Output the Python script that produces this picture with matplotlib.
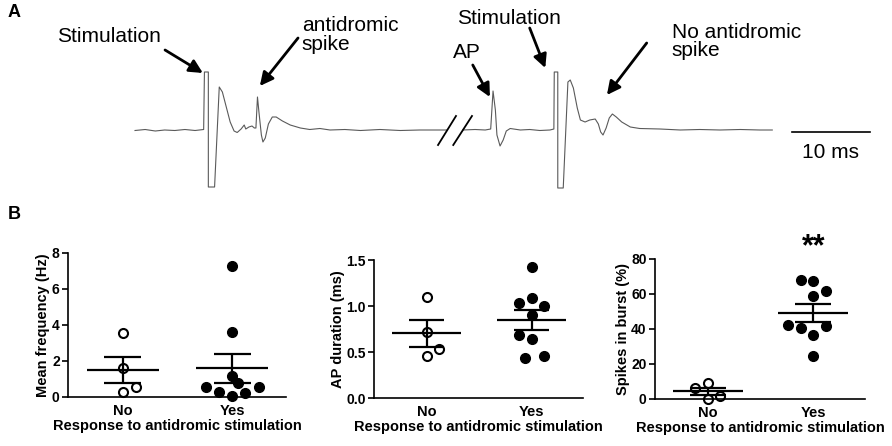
import matplotlib
matplotlib.use("Agg")
import matplotlib.pyplot as plt
import numpy as np
from matplotlib.ticker import FormatStrFormatter

plt.rcParams['font.family'] = ['Liberation Sans', 'DejaVu Sans']

# ---- panel A: recorded traces (time in ms, amplitude in arbitrary units) ----
trace1_t = [0, 1.3, 2.6, 3.8, 5.1, 6.4, 7.7, 8.8, 8.9, 9.4, 9.4, 10.2, 10.8,
            11.2, 11.7, 12.2, 12.7, 13.1, 13.6, 14.0, 14.2, 14.6, 15.0, 15.3,
            15.5, 15.7, 15.9, 16.2, 16.4, 16.7, 17.1, 17.6, 18.1, 18.9, 19.9,
            21.2, 22.4, 23.7, 25.0, 26.9, 28.9, 31.4, 34.0, 36.5, 40.0]
trace1_v = [-0.05, 0.05, -0.1, 0.0, -0.05, 0.05, -0.05, 0.05, 5.8, 5.8, -5.7, -5.7, 4.3,
            3.8, 2.3, 0.8, -0.1, -0.25, 0.1, 0.5, 0.1, 0.3, 0.4, 0.2,
            0.2, 3.3, 1.7, -0.5, -1.2, -0.8, 0.6, 1.3, 1.3, 0.9, 0.5,
            0.2, 0.05, 0.15, 0.0, 0.05, -0.05, 0.05, -0.05, 0.0, 0.0]

trace2_t = [42.0, 43.6, 44.9, 45.6, 45.9, 46.2, 46.4, 46.8, 47.2, 47.6, 48.1,
            49.4, 50.6, 51.9, 53.2, 53.7, 53.75, 54.2, 54.2, 54.9, 55.5, 55.8,
            56.2, 56.7, 57.1, 57.7, 58.3, 59.0, 59.4, 59.7, 60.0, 60.4, 60.8,
            61.2, 61.7, 62.4, 63.5, 64.7, 67.3, 69.9, 72.4, 75.0, 77.6, 80.1, 81.7]
trace2_v = [0.0, 0.05, 0.0, 0.1, 3.9, 2.0, -0.5, -1.6, -1.0, -0.1, 0.15,
            0.0, 0.05, -0.05, 0.0, 0.1, 5.8, 5.8, -5.8, -5.8, 4.8, 5.0,
            4.2, 2.2, 1.0, 0.8, 1.0, 1.1, 0.6, -0.2, -0.5, 0.2, 1.2,
            1.6, 1.3, 0.8, 0.3, 0.15, 0.1, 0.0, 0.05, 0.0, 0.05, 0.0, 0.0]

# ---- panel B: single-unit values ----
groups = ['No', 'Yes']
freq_no = [3.55, 1.6, 0.3, 0.55]
freq_yes = [7.3, 3.6, 1.15, 0.75, 0.55, 0.25, 0.05, 0.2, 0.55]
apdur_no = [1.1, 0.72, 0.46, 0.53]
apdur_yes = [1.42, 1.09, 1.03, 1.0, 0.9, 0.68, 0.64, 0.44, 0.46]
burst_no = [9.0, 6.5, 0.0, 1.7]
burst_yes = [68.1, 67.6, 61.5, 58.6, 42.4, 40.5, 41.8, 36.3, 24.8]

# horizontal scatter of the dots (as in the figure)
freq_no_dx = [0, 0, 0, 0.12]
freq_yes_dx = [0, 0, 0, 0.05, -0.24, -0.12, 0, 0.12, 0.24]
apdur_no_dx = [0, 0, 0, 0.12]
apdur_yes_dx = [0, 0, -0.12, 0.12, 0, -0.12, 0, -0.06, 0.12]
burst_no_dx = [0, -0.12, 0, 0.12]
burst_yes_dx = [-0.12, 0, 0.12, 0, -0.24, -0.12, 0.12, 0, 0]

fig = plt.figure(figsize=(8.92, 4.46), dpi=100)

# ---------------- panel A ----------------
axA = fig.add_axes([0, 0.55, 1, 0.45])
axA.plot(trace1_t, trace1_v, color='#5a5a5a', lw=0.8)
axA.plot(trace2_t, trace2_v, color='#5a5a5a', lw=0.8)
axA.plot([38.85, 41.15], [-1.5, 1.4], color='black', lw=1.3)
axA.plot([40.8, 43.2], [-1.5, 1.4], color='black', lw=1.3)
axA.plot([84.2, 94.2], [-0.2, -0.2], color='black', lw=1.2)
axA.text(89.2, -2.3, '10 ms', fontsize=15, ha='center', va='center')
axA.set_xlim(-17.31, 97.05)
axA.set_ylim(-7.07, 13.0)
axA.axis('off')

arrow = dict(arrowstyle='-|>', color='black', lw=2, mutation_scale=20, shrinkA=0, shrinkB=0)
axA.text(-10.0, 9.4, 'Stimulation', fontsize=15, va='center')
axA.annotate('', xy=(8.7, 5.7), xytext=(3.85, 8.0), arrowprops=arrow)
axA.text(21.4, 9.5, 'antidromic\nspike', fontsize=15, va='center', linespacing=1.0)
axA.annotate('', xy=(16.0, 4.4), xytext=(20.9, 9.2), arrowprops=arrow)
axA.text(40.8, 7.7, 'AP', fontsize=15, va='center')
axA.annotate('', xy=(45.5, 3.3), xytext=(43.3, 6.5), arrowprops=arrow)
axA.text(41.3, 11.2, 'Stimulation', fontsize=15, va='center')
axA.annotate('', xy=(52.6, 6.2), xytext=(50.6, 10.2), arrowprops=arrow)
axA.text(68.8, 8.85, 'No antidromic\nspike', fontsize=15, va='center', linespacing=1.0)
axA.annotate('', xy=(60.5, 3.5), xytext=(65.6, 8.7), arrowprops=arrow)

fig.text(0.009, 0.973, 'A', fontsize=13, fontweight='bold', va='center')
fig.text(0.009, 0.518, 'B', fontsize=13, fontweight='bold', va='center')


# ---------------- panel B ----------------
def dot_panel(ax, no_vals, no_dx, yes_vals, yes_dx, ylim, yticks, ylabel, fmt):
    for x0, vals in ((0, no_vals), (1, yes_vals)):
        m = np.mean(vals)
        s = np.std(vals, ddof=1) / np.sqrt(len(vals))
        ax.hlines(m, x0 - 0.33, x0 + 0.33, color='black', lw=1.6, zorder=3)
        ax.vlines(x0, m - s, m + s, color='black', lw=1.6, zorder=3)
        ax.hlines([m - s, m + s], x0 - 0.17, x0 + 0.17, color='black', lw=1.6, zorder=3)
    ax.plot(0 + np.array(no_dx), no_vals, 'o', mfc='none', mec='black', mew=1.5,
            ms=6.5, zorder=4, clip_on=False)
    ax.plot(1 + np.array(yes_dx), yes_vals, 'o', color='black', ms=7, zorder=4, clip_on=False)
    ax.set_xlim(-0.5, 1.49)
    ax.set_ylim(*ylim)
    ax.set_yticks(yticks)
    ax.yaxis.set_major_formatter(FormatStrFormatter(fmt))
    ax.set_xticks([0, 1])
    ax.set_xticklabels(groups)
    for side in ('top', 'right'):
        ax.spines[side].set_visible(False)
    for side in ('left', 'bottom'):
        ax.spines[side].set_linewidth(1.2)
    ax.tick_params(axis='y', direction='out', length=4, width=1.2, labelsize=10, pad=2)
    ax.tick_params(axis='x', length=0, labelsize=10.5, pad=5)
    for lab in ax.get_xticklabels() + ax.get_yticklabels():
        lab.set_fontweight('bold')
    ax.set_ylabel(ylabel, fontsize=10.5, fontweight='bold', labelpad=1)
    ax.set_xlabel('Response to antidromic stimulation', fontsize=10.5,
                  fontweight='bold', labelpad=1)


ax1 = fig.add_axes([0.0762, 0.1099, 0.2444, 0.3229])
dot_panel(ax1, freq_no, freq_no_dx, freq_yes, freq_yes_dx, (0, 8), [0, 2, 4, 6, 8],
          'Mean frequency (Hz)', '%d')

ax2 = fig.add_axes([0.4193, 0.1076, 0.2343, 0.3094])
dot_panel(ax2, apdur_no, apdur_no_dx, apdur_yes, apdur_yes_dx, (0, 1.5),
          [0, 0.5, 1.0, 1.5], 'AP duration (ms)', '%.1f')

ax3 = fig.add_axes([0.7343, 0.1054, 0.2354, 0.3139])
dot_panel(ax3, burst_no, burst_no_dx, burst_yes, burst_yes_dx, (0, 80),
          [0, 20, 40, 60, 80], 'Spikes in burst (%)', '%d')
ax3.text(1, 82, '**', fontsize=22, fontweight='bold', ha='center', va='baseline')

fig.savefig('out.png', dpi=100)
